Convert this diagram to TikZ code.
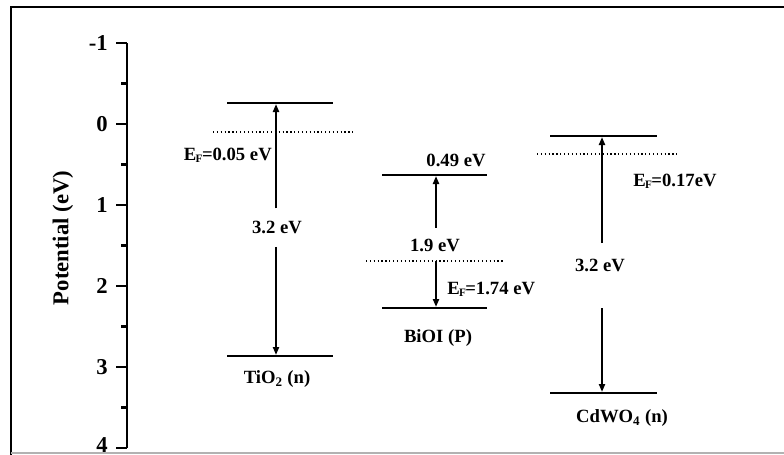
\documentclass[tikz,border=0pt]{standalone}
\usepackage{fontspec}
\setmainfont{Liberation Serif}
\usetikzlibrary{arrows.meta}
\tikzset{
  level/.style={line width=2.2pt},
  fermi/.style={dotted, line width=0.9pt},
  gaparrow/.style={line width=1.5pt, -{Triangle[length=6pt,width=4.5pt]}},
  lbl/.style={font=\bfseries\fontsize{14}{16}\selectfont, inner sep=0pt},
  ticklbl/.style={font=\bfseries\fontsize{17}{19}\selectfont, inner sep=0pt, anchor=east},
}
\newcommand{\EF}{E\kern-0.5pt\raisebox{-0.2ex}{\fontsize{8.5}{9}\selectfont F}\kern-0.5pt}
\begin{document}
\begin{tikzpicture}[x=0.75pt,y=-0.75pt]
\useasboundingbox (0,0) rectangle (784,454);
% frame
\draw[line width=2.2pt] (11,460) -- (11,7) -- (790,7);
\draw[gray!60, line width=0.8pt] (11,453) -- (784,453);
% potential axis
\draw[line width=1.6pt] (127,43) -- (127,448);
\foreach \v [count=\i] in {-1,0,1,2,3} {
  \draw[line width=1.6pt] (116,{124+81*\v}) -- (127,{124+81*\v});
  \node[ticklbl] (tick\i) at (108,{124+81*\v}) {\v};
}
\draw[line width=1.6pt] (116,448) -- (127,448);
\node[ticklbl, anchor=base east] (tick6) at (108,452) {4};
\foreach \v in {-0.5,0.5,1.5,2.5,3.5}
  \draw[line width=1.6pt] (121,{124+81*\v}) -- (127,{124+81*\v});
\node[font=\bfseries\fontsize{17}{19}\selectfont, rotate=90] (ylabel) at (63,238) {Potential (eV)};

% TiO2 (n)
\draw[level] (227,103) -- (333,103);
\draw[level] (227,356) -- (333,356);
\draw[fermi] (213,132) -- (353,132);
\coordinate (tcb) at (276,104);
\coordinate (tvb) at (276,355);
\node[lbl] (tgap) at (277,227) {3.2 eV};
\draw[gaparrow] ([yshift=9pt]tgap.north -| tcb) -- (tcb);
\draw[gaparrow] ([yshift=-10pt]tgap.south -| tvb) -- (tvb);
\node[lbl, anchor=east] (tef) at (272,155) {\EF=0.05 eV};
\node[lbl] (tname) at (277,379) {TiO\textsubscript{2} (n)};

% BiOI (P)
\draw[level] (382,175) -- (487,175);
\draw[level] (382,308) -- (487,308);
\draw[fermi] (366,261) -- (505,261);
\coordinate (bcb) at (436,176);
\coordinate (bvb) at (436,307);
\coordinate (bef) at (436,261);
\node[lbl] (bgap) at (435,245) {1.9 eV};
\draw[gaparrow] ([yshift=8pt]bgap.north -| bcb) -- (bcb);
\draw[gaparrow] (bef) -- (bvb);
\node[lbl] (bcbl) at (456,160) {0.49 eV};
\node[lbl, anchor=west] (befl) at (447,289) {\EF=1.74 eV};
\node[lbl] (bname) at (438,338) {BiOI (P)};

% CdWO4 (n)
\draw[level] (550,136) -- (657,136);
\draw[level] (550,393) -- (657,393);
\draw[fermi] (537,154) -- (678,154);
\coordinate (ccb) at (602,137);
\coordinate (cvb) at (602,392);
\coordinate (cup) at (602,243);
\coordinate (cdown) at (602,308);
\node[lbl] (cgap) at (600,265) {3.2 eV};
\draw[gaparrow] (cup) -- (ccb);
\draw[gaparrow] (cdown) -- (cvb);
\node[lbl] (cef) at (675,181) {\EF=0.17eV};
\node[lbl] (cname) at (622,418) {CdWO\textsubscript{4} (n)};
\end{tikzpicture}
\end{document}
